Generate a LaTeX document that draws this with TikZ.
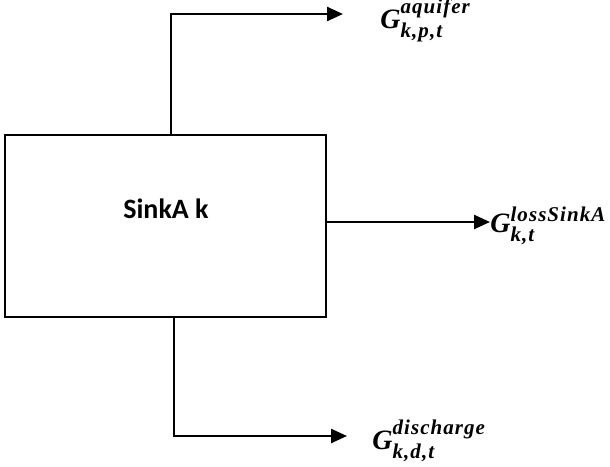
\documentclass[tikz,border=0pt]{standalone}
\usepackage{amsmath,amssymb}
\usepackage{fontspec}
\setsansfont{Carlito}
\newfontfamily\grfont{Liberation Serif}[LetterSpace=5]
\usepackage{tikz}
\usetikzlibrary{arrows.meta}
\DeclareMathSizes{14}{14}{10.5}{8}
\newcommand{\grtxt}[1]{\text{\grfont\bfseries\itshape #1}}
\newcommand{\grsup}[1]{\text{\raisebox{-1.3pt}{\grfont\bfseries\itshape #1}}}

\tikzset{
  puits/.style={draw, line width=1.2pt, minimum width=160.5pt,
    minimum height=91pt, inner sep=0pt},
  flux/.style={line width=1.2pt, -{Triangle[length=8pt,width=7pt]}},
  grandeur/.style={anchor=base west, inner sep=0pt,
    font=\fontsize{14}{16}\selectfont},
}

\begin{document}
\begin{tikzpicture}[x=0.5pt, y=-0.5pt]
        \useasboundingbox (0,0) rectangle (610,466);

        %% ── Bloc puits ───────────────────────────────────────────────
        \node[puits] (sink) at (165.5,226) {};
        \node[font=\sffamily\bfseries\fontsize{14}{16}\selectfont]
            (nom) at (166,209) {SinkA k};

        %% ── Points de passage des flux ───────────────────────────────
        \coordinate (coude-haut) at (171,14);
        \coordinate (fin-haut) at (343,14);
        \coordinate (fin-droite) at (490,222);
        \coordinate (coude-bas) at (174,436);
        \coordinate (fin-bas) at (347,436);

        %% ── Flux sortants ────────────────────────────────────────────
        \draw[flux] (sink.north -| coude-haut) -- (coude-haut) -- (fin-haut);
        \draw[flux] (sink.east |- fin-droite) -- (fin-droite);
        \draw[flux] (sink.south -| coude-bas) -- (coude-bas) -- (fin-bas);

        %% ── Grandeurs ────────────────────────────────────────────────
        \node[grandeur] (g-aquifer) at (380,28)
            {$\grtxt{G}^{\grsup{aquifer}}_{\grtxt{k,p,t}}$};
        \node[grandeur] (g-loss) at (490,232)
            {$\grtxt{G}^{\grsup{lossSinkA}}_{\grtxt{k,t}}$};
        \node[grandeur] (g-discharge) at (372,449)
            {$\grtxt{G}^{\grsup{discharge}}_{\grtxt{k,d,t}}$};

    \end{tikzpicture}
\end{document}
